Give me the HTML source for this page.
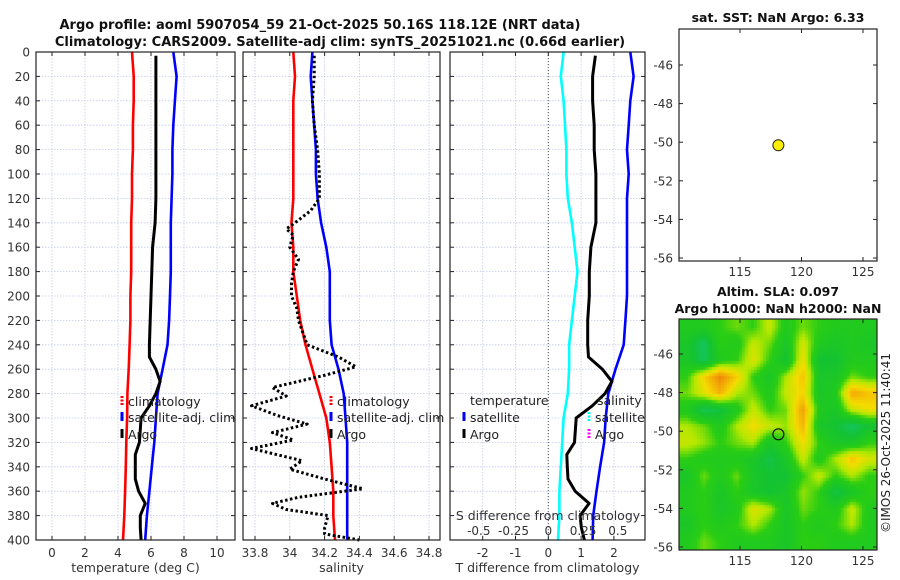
<!DOCTYPE html>
<html><head><meta charset="utf-8">
<style>
html,body{margin:0;padding:0;background:#fff;}
#wrap{position:relative;width:900px;height:580px;overflow:hidden;font-family:"DejaVu Sans","Liberation Sans",sans-serif;}
#heat{position:absolute;left:679px;top:319px;width:198px;height:231px;}
svg{position:absolute;left:0;top:0;}
text{font-family:"DejaVu Sans","Liberation Sans",sans-serif;}
</style></head>
<body>
<div id="wrap">
<canvas id="heat" width="198" height="231"></canvas>
<svg id="svg" width="900" height="580" xmlns="http://www.w3.org/2000/svg"></svg>
</div>
<script>
// ---- data ----
const depthGrid = [0,20,40,60,80,100,120,140,160,180,200,220,240,260,280,300,320,340,360,380,400];
const climTemp = [4.85,4.95,4.95,4.9,4.9,4.85,4.85,4.8,4.8,4.8,4.75,4.75,4.7,4.65,4.57,4.55,4.5,4.47,4.43,4.38,4.3];
const satTemp = [7.35,7.55,7.45,7.35,7.3,7.3,7.25,7.2,7.2,7.2,7.15,7.1,7.0,6.7,6.4,6.3,6.2,6.05,5.9,5.75,5.65];
const argoTempDepth = [3,20,40,60,80,100,120,140,160,180,200,220,240,250,260,270,280,290,300,320,330,340,350,360,370,380,390,400];
const argoTemp = [6.3,6.3,6.3,6.3,6.3,6.3,6.3,6.25,6.1,6.05,6.0,5.95,5.9,5.9,6.3,6.55,6.3,5.9,5.4,5.3,5.05,5.05,5.05,5.25,5.65,5.35,5.35,5.4];
const climSal = [34.02,34.03,34.02,34.02,34.02,34.02,34.02,34.01,34.02,34.02,34.04,34.06,34.09,34.13,34.17,34.21,34.23,34.24,34.25,34.25,34.26];
const satSal = [34.13,34.12,34.13,34.14,34.15,34.15,34.16,34.18,34.21,34.23,34.23,34.23,34.24,34.28,34.31,34.32,34.33,34.33,34.33,34.33,34.33];
const argoSalDepth = [3,20,40,60,80,100,120,130,140,145,150,160,170,180,190,200,210,220,240,250,258,265,275,282,290,298,305,312,318,325,335,342,350,358,365,370,375,380,390,395,400];
const argoSal = [34.14,34.14,34.13,34.14,34.16,34.17,34.17,34.12,34.03,33.98,34.02,34.0,34.05,34.02,34.01,34.01,34.04,34.05,34.1,34.28,34.38,34.2,33.9,33.98,33.78,33.93,34.1,33.9,34.02,33.78,34.07,34.0,34.2,34.42,34.05,33.9,33.98,34.22,34.2,34.2,34.4];
const tempTicks = [0,2,4,6,8,10];
const salTicks = [33.8,34,34.2,34.4,34.6,34.8];
const salTickLabels = ["33.8","34","34.2","34.4","34.6","34.8"];
const tdiffTicks = [-2,-1,0,1,2];
const sdiffTicks = [-0.5,-0.25,0,0.25,0.5];
const depthTicks = [0,20,40,60,80,100,120,140,160,180,200,220,240,260,280,300,320,340,360,380,400];
const latTicks = [-46,-48,-50,-52,-54,-56];
const lonTicks = [115,120,125];
const argoLon = 118.12, argoLat = -50.16;
// SLA field (0=low/teal .. 1=high/orange), rows north->south
const slaGrid = [
[.4,.4,.45,.5,.45,.58,.4,.5,.45,.4,.4,.4],
[.35,.2,.45,.4,.58,.5,.35,.6,.4,.35,.4,.35],
[.35,.22,.4,.45,.62,.45,.3,.65,.3,.3,.4,.4],
[.45,.68,.85,.7,.45,.35,.55,.72,.35,.35,.5,.45],
[.5,.62,.75,.55,.5,.4,.58,.68,.35,.4,.78,.72],
[.4,.22,.27,.4,.58,.45,.5,.8,.4,.35,.58,.65],
[.55,.5,.4,.55,.66,.58,.53,.75,.35,.3,.2,.3],
[.58,.53,.45,.5,.55,.35,.45,.66,.45,.35,.35,.45],
[.45,.4,.4,.4,.35,.25,.35,.58,.4,.55,.72,.6],
[.35,.5,.4,.5,.35,.3,.3,.45,.58,.45,.55,.45],
[.4,.45,.35,.45,.35,.3,.35,.53,.45,.25,.35,.45],
[.4,.45,.35,.4,.62,.55,.35,.5,.45,.4,.58,.4],
[.35,.45,.4,.45,.55,.45,.35,.45,.4,.45,.55,.4],
[.4,.5,.45,.4,.4,.4,.35,.45,.45,.4,.4,.4]];

// ---- geometry ----
const TOP=52, BOT=540;
const yD = d => TOP + (BOT-TOP)*d/400;
const P1={l:36,r:235}, P2={l:243,r:440}, P3={l:450,r:645};
const xT = t => 52 + 16.5*t;
const xS = s => 255 + 174*(s-33.8);
const xDT = t => 548.3 + 32.8*t;
const xDS = s => 548.3 + 139*s;
const M1={l:679,r:877,t:29,b:261}, M2={l:679,r:877,t:319,b:550};
const xLon = lo => 740 + 12.3*(lo-115);
const yLat1 = la => 65 + 19.3*(-46-la);
const yLat2 = la => 354 + 19.3*(-46-la);

const NS="http://www.w3.org/2000/svg";
const svg=document.getElementById('svg');
function el(tag,attrs,parent){const e=document.createElementNS(NS,tag);for(const k in attrs)e.setAttribute(k,attrs[k]);(parent||svg).appendChild(e);return e;}
function txt(x,y,s,opts,name){const t=el('text',Object.assign({x:x,y:y,'font-size':12,fill:'#333'},opts||{}));t.textContent=s;


return t;}
function interp(d,ds,vs){for(let i=0;i<ds.length-1;i++){if(d>=ds[i]&&d<=ds[i+1]){const f=(d-ds[i])/(ds[i+1]-ds[i]);return vs[i]+f*(vs[i+1]-vs[i]);}}return d<ds[0]?vs[0]:vs[vs.length-1];}
function line(xs,ys,xf,style,name){const pts=xs.map((v,i)=>xf(v).toFixed(1)+','+yD(ys[i]).toFixed(1)).join(' ');
const p=el('polyline',Object.assign({points:pts,fill:'none','stroke-linejoin':'round'},style));


return p;}

function panel(P,xticks,xf,name){
  const g=el('g',{});
  
  
  depthTicks.forEach(d=>{if(d>0&&d<400)el('line',{x1:P.l,x2:P.r,y1:yD(d),y2:yD(d),stroke:'#c4cbe8','stroke-width':0.8,'stroke-dasharray':'1.5,1.5'},g);});
  xticks.forEach(t=>{const x=xf(t);if(x>P.l&&x<P.r)el('line',{x1:x,x2:x,y1:TOP,y2:BOT,stroke:'#c4cbe8','stroke-width':0.8,'stroke-dasharray':'1.5,1.5'},g);});
  return g;
}
function frame(P,xticks,xf,labels,xlabel,name){
  const r=el('rect',{x:P.l,y:TOP,width:P.r-P.l,height:BOT-TOP,fill:'none',stroke:'#222','stroke-width':1.2});
  
  
  depthTicks.forEach(d=>{el('line',{x1:P.l,x2:P.l+4,y1:yD(d),y2:yD(d),stroke:'#222'});el('line',{x1:P.r-4,x2:P.r,y1:yD(d),y2:yD(d),stroke:'#222'});});
  xticks.forEach((t,i)=>{const x=xf(t);el('line',{x1:x,x2:x,y1:BOT,y2:BOT-4,stroke:'#222'});el('line',{x1:x,x2:x,y1:TOP,y2:TOP+4,stroke:'#222'});
    txt(x,557,labels[i],{'text-anchor':'middle'},name+'-x-tick');});
  txt((P.l+P.r)/2,572,xlabel,{'text-anchor':'middle','font-size':12.5},name+'-x-axis-title');
}

panel(P1,tempTicks,xT,'temperature-panel');
panel(P2,salTicks,xS,'salinity-panel');
panel(P3,tdiffTicks,xDT,'difference-panel');

line(climTemp,depthGrid,xT,{stroke:'#ff0000','stroke-width':2.6},'climatology-temperature-line');
line(satTemp,depthGrid,xT,{stroke:'#0000ff','stroke-width':2.6},'satellite-temperature-line');
line(argoTemp,argoTempDepth,xT,{stroke:'#000','stroke-width':3},'argo-temperature-line');
line(climSal,depthGrid,xS,{stroke:'#ff0000','stroke-width':2.6},'climatology-salinity-line');
line(satSal,depthGrid,xS,{stroke:'#0000ff','stroke-width':2.6},'satellite-salinity-line');
line(argoSal,argoSalDepth,xS,{stroke:'#000','stroke-width':3,'stroke-dasharray':'2.5,2.5'},'argo-salinity-line');
el('line',{x1:xDT(0),x2:xDT(0),y1:TOP,y2:BOT,stroke:'#555','stroke-width':1,'stroke-dasharray':'1,2'});
const satSalDiff = satSal.map((v,i)=>v-climSal[i]);
const satTempDiff = satTemp.map((v,i)=>v-climTemp[i]);
const argoTempDiff = argoTemp.map((v,i)=>v-interp(argoTempDepth[i],depthGrid,climTemp));
line(satSalDiff,depthGrid,xDS,{stroke:'#00ffff','stroke-width':2.6},'satellite-salinity-diff-line');
line(satTempDiff,depthGrid,xDT,{stroke:'#0000ff','stroke-width':2.6},'satellite-temperature-diff-line');
line(argoTempDiff,argoTempDepth,xDT,{stroke:'#000','stroke-width':3},'argo-temperature-diff-line');

frame(P1,tempTicks,xT,tempTicks.map(String),'temperature (deg C)','temperature-panel');
frame(P2,salTicks,xS,salTickLabels,'salinity','salinity-panel');
frame(P3,tdiffTicks,xDT,tdiffTicks.map(String),'T difference from climatology','difference-panel');
depthTicks.forEach(d=>txt(30,yD(d)+4.5,String(d),{'text-anchor':'end'},'depth-tick'));

txt(548,520,'S difference from climatology',{'text-anchor':'middle','font-size':12.5},'s-difference-axis-title');
sdiffTicks.forEach(s=>txt(xDS(s),535,String(s),{'text-anchor':'middle'},'s-difference-tick'));

function legend(x,y,color,label,name,dash){
  const g=el('g',{});
  
  
  el('line',Object.assign({x1:x,x2:x,y1:y-10,y2:y-1,stroke:color,'stroke-width':3},dash?{'stroke-dasharray':'2,1.5'}:{}),g);
  const t=txt(x+6,y,label,{'font-size':12.5,fill:'#222'},name+'-label');g.appendChild(t);
}
legend(122,406,'#ff0000','climatology','legend-climatology-temp',true);
legend(122,422,'#0000ff','satellite-adj. clim','legend-satellite-temp');
legend(122,439,'#000','Argo','legend-argo-temp');
legend(331,406,'#ff0000','climatology','legend-climatology-sal',true);
legend(331,422,'#0000ff','satellite-adj. clim','legend-satellite-sal');
legend(331,439,'#000','Argo','legend-argo-sal');
txt(470,405,'temperature',{'font-size':12.5,fill:'#222'},'legend-temperature-heading');
txt(597,405,'salinity',{'font-size':12.5,fill:'#222'},'legend-salinity-heading');
legend(464,422,'#0000ff','satellite','legend-temp-satellite');
legend(464,439,'#000','Argo','legend-temp-argo');
legend(589,422,'#00ffff','satellite','legend-sal-satellite',true);
legend(589,439,'#ff00ff','Argo','legend-sal-argo',true);

txt(320,29,'Argo profile: aoml 5907054_59 21-Oct-2025 50.16S 118.12E (NRT data)',{'text-anchor':'middle','font-size':13,'font-weight':'bold',fill:'#111'},'figure-title');
txt(340,46,'Climatology: CARS2009. Satellite-adj clim: synTS_20251021.nc (0.66d earlier)',{'text-anchor':'middle','font-size':13,'font-weight':'bold',fill:'#111'},'figure-subtitle');

function mapFrame(M,yLat,name){
  const r=el('rect',{x:M.l,y:M.t,width:M.r-M.l,height:M.b-M.t,fill:'none',stroke:'#222','stroke-width':1.2});
  
  
  latTicks.forEach(la=>{const y=yLat(la);el('line',{x1:M.l,x2:M.l+4,y1:y,y2:y,stroke:'#222'});el('line',{x1:M.r-4,x2:M.r,y1:y,y2:y,stroke:'#222'});
    txt(M.l-6,y+4.5,String(la),{'text-anchor':'end'},name+'-lat-tick');});
  lonTicks.forEach(lo=>{const x=xLon(lo);el('line',{x1:x,x2:x,y1:M.b,y2:M.b-4,stroke:'#222'});el('line',{x1:x,x2:x,y1:M.t,y2:M.t+4,stroke:'#222'});
    txt(x,M.b+15,String(lo),{'text-anchor':'middle'},name+'-lon-tick');});
}
txt(778,22,'sat. SST: NaN Argo: 6.33',{'text-anchor':'middle','font-size':12.5,'font-weight':'bold',fill:'#111'},'sst-map-title');
mapFrame(M1,yLat1,'sst-map');
const p1=el('circle',{cx:xLon(argoLon),cy:yLat1(argoLat),r:5.5,fill:'#ffee00',stroke:'#222','stroke-width':1});



txt(778,296,'Altim. SLA: 0.097',{'text-anchor':'middle','font-size':12.5,'font-weight':'bold',fill:'#111'},'sla-map-title');
txt(778,313,'Argo h1000: NaN h2000: NaN',{'text-anchor':'middle','font-size':12.5,'font-weight':'bold',fill:'#111'},'sla-map-subtitle');
mapFrame(M2,yLat2,'sla-map');
const p2=el('circle',{cx:xLon(argoLon),cy:yLat2(argoLat),r:5.5,fill:'none',stroke:'#111','stroke-width':1.2});



txt(0,0,'©IMOS 26-Oct-2025 11:40:41',{'text-anchor':'middle','font-size':12,fill:'#222',transform:'translate(890,443) rotate(-90)'},'imos-credit');

(function(){
  const stops=[[0,[20,200,190]],[0.3,[20,195,50]],[0.45,[40,205,20]],[0.55,[180,232,0]],[0.66,[245,220,0]],[0.85,[240,135,10]],[1,[220,100,10]]];
  function cmap(v){for(let i=0;i<stops.length-1;i++){if(v<=stops[i+1][0]){const f=(v-stops[i][0])/(stops[i+1][0]-stops[i][0]);return stops[i][1].map((c,k)=>Math.round(c+f*(stops[i+1][1][k]-c)));}}return stops[stops.length-1][1];}
  const cv=document.getElementById('heat'),ctx=cv.getContext('2d');
  const W=cv.width,H=cv.height,rows=slaGrid.length,cols=slaGrid[0].length;
  const img=ctx.createImageData(W,H);
  const px=3;
  for(let y=0;y<H;y+=px)for(let x=0;x<W;x+=px){
    const gx=Math.min(Math.max((x+px/2)/W*cols-0.5,0),cols-1),gy=Math.min(Math.max((y+px/2)/H*rows-0.5,0),rows-1);
    const x0=Math.floor(gx),y0=Math.floor(gy),x1=Math.min(x0+1,cols-1),y1=Math.min(y0+1,rows-1),fx=gx-x0,fy=gy-y0;
    const v=slaGrid[y0][x0]*(1-fx)*(1-fy)+slaGrid[y0][x1]*fx*(1-fy)+slaGrid[y1][x0]*(1-fx)*fy+slaGrid[y1][x1]*fx*fy;
    const c=cmap(v);
    for(let yy=y;yy<Math.min(y+px,H);yy++)for(let xx=x;xx<Math.min(x+px,W);xx++){const i=(yy*W+xx)*4;img.data[i]=c[0];img.data[i+1]=c[1];img.data[i+2]=c[2];img.data[i+3]=255;}
  }
  ctx.putImageData(img,0,0);
})();
</script>
</body></html>
